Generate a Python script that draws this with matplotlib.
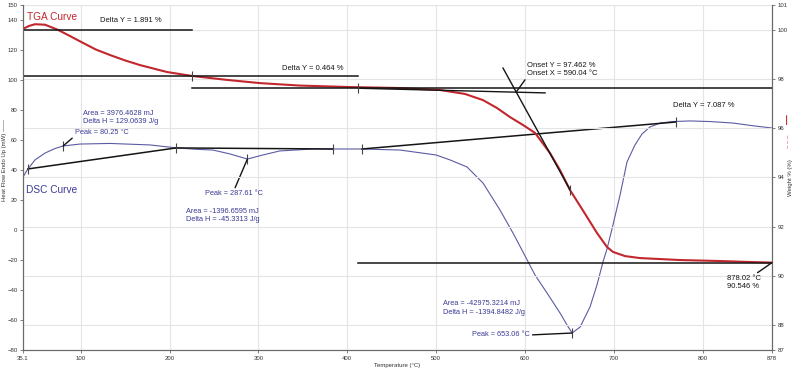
import numpy as np
import matplotlib
matplotlib.use('Agg')
import matplotlib.pyplot as plt

plt.rcParams['font.family'] = ['Liberation Sans', 'DejaVu Sans']

#==============================================================================
# Data
#==============================================================================
# DSC curve: temperature (C), heat flow (mW) -> left axis
dsc_t = [35.1, 38.5, 40.7, 48.6, 59.9, 71.1, 80.25, 99.3, 133, 178, 208.4, 230, 249,
         268, 287.6, 305, 324, 361, 384, 416.6, 459.4, 500, 515.7, 534.8, 552.8,
         571.9, 586.5, 597.8, 611.3, 624.8, 639.4, 647.3, 653.06, 662, 673.2, 681,
         687.8, 692.3, 699, 707, 714.8, 723.8, 731.7, 740.7, 752, 766.6, 785.7,
         808, 834, 859, 878]
dsc_mw = [35.3, 38.7, 40.7, 46.7, 51.3, 54.3, 56.0, 57.3, 57.7, 56.7, 54.7, 53.8, 53.3,
          50.7, 47.3, 50.0, 52.7, 54.0, 54.0, 54.0, 53.3, 50.0, 46.7, 42.0, 31.3,
          13.3, -2.0, -14.7, -30.0, -42.0, -55.3, -63.3, -68.7, -64.7, -51.3, -36.7,
          -21.3, -12.7, 3.3, 23.3, 45.3, 56.7, 64.0, 68.7, 71.3, 72.3, 72.7,
          72.3, 71.3, 69.3, 68.0]

# TGA curve: temperature (C), weight (%) -> right axis
tga_t = [35.1, 41.9, 48.6, 59.9, 74.5, 88, 102.7, 117.3, 133, 150, 166.9, 197.2, 225.3,
         264.7, 301.8, 346.8, 403, 459.4, 504.4, 532.5, 552.8, 568.5, 583.2, 597.8,
         611.3, 628.2, 639.4, 650.7, 669.8, 681, 692.3, 699, 712.6, 729.4, 774.4,
         819.5, 853.3, 878]
tga_w = [100.03, 100.15, 100.22, 100.20, 99.99, 99.74, 99.46, 99.19, 98.97, 98.75, 98.56,
         98.28, 98.12, 97.96, 97.83, 97.73, 97.67, 97.63, 97.55, 97.39, 97.14, 96.82,
         96.45, 96.13, 95.81, 94.99, 94.30, 93.49, 92.40, 91.75, 91.18, 90.98, 90.81,
         90.73, 90.65, 90.61, 90.57, 90.546]

# TGA analysis lines (weight %)
step_a = [35.1, 225.3, 100.0]      # x0, x1, level
step_b = [35.1, 412.1, 98.109]
step_c = [225.3, 878.0, 97.645]
end_line = [412.1, 878.0, 90.546]
onset_base_t = [414.4, 622.6]
onset_base_w = [97.620, 97.433]
onset_tan_t = [575.3, 650.7]
onset_tan_w = [98.44, 93.50]
onset_x, onset_y = 590.04, 97.462
end_x, end_y = 878.02, 90.546
tga_marks_t = [225.3, 412.1, 650.7]
tga_marks_w = [98.109, 97.645, 93.50]

# DSC baselines
base1_t, base1_mw = [40.7, 207.3], [40.7, 54.7]
base2_t, base2_mw = [207.3, 384.0], [54.7, 54.0]
base3_t, base3_mw = [416.6, 770.0], [54.0, 72.0]
dsc_marks_t = [40.7, 80.25, 207.3, 287.61, 384.0, 416.6, 653.06, 770.0]
dsc_marks_mw = [40.7, 56.0, 54.7, 47.3, 54.0, 54.0, -68.7, 72.0]
peaks = [(80.25, 56.0), (287.61, 47.3), (653.06, -68.7)]

x_ticks = [35.1, 100, 200, 300, 400, 500, 600, 700, 800, 878]
left_ticks = [-80, -60, -40, -20, 0, 20, 40, 60, 80, 100, 120, 140, 150]
right_ticks = [87, 88, 90, 92, 94, 96, 98, 100, 101]

#==============================================================================
# Plot
#==============================================================================
RED = '#c1272d'
BLUE = '#5b5ba3'
BTXT = '#3a3a96'
K = '#151515'
GRID = '#e4e4e4'

fig = plt.figure(figsize=(8, 3.7), dpi=100)
ax = fig.add_axes([0.02875, 0.0541, 0.93625, 0.9324])
ax2 = ax.twinx()

ax.set_xlim(35.1, 878)
ax.set_ylim(-80, 150)
ax2.set_ylim(87, 101)
ax.set_xticks(x_ticks)
ax.set_xticklabels(['35.1'] + [str(int(v)) for v in x_ticks[1:]])
ax.set_yticks(left_ticks)
ax2.set_yticks(right_ticks)

ax.grid(axis='x', color=GRID, lw=0.8)
ax2.grid(axis='y', color=GRID, lw=0.8)
ax.set_axisbelow(True)
ax2.set_axisbelow(True)

for a in (ax, ax2):
    a.spines['top'].set_visible(False)
    for s in ('left', 'right', 'bottom'):
        a.spines[s].set_color('#6a6a6a')
        a.spines[s].set_linewidth(0.8)
    a.tick_params(labelsize=4.3, length=2.5, width=0.6, pad=1.5,
                  colors='#6a6a6a', labelcolor='#333333')

ax.set_xlabel('Temperature (°C)', fontsize=4.3, color='#333333', labelpad=1.5)
ax.set_ylabel('Heat Flow Endo Up (mW) ——', fontsize=4.3, color='#333333')
ax.yaxis.set_label_coords(-0.021, 0.55)
ax2.set_ylabel('Weight % (%)', fontsize=4.3, color='#333333')
ax2.yaxis.set_label_coords(1.022, 0.50)
ax2.text(1.022, 0.605, '– – –', transform=ax2.transAxes, rotation=90, color=RED,
         fontsize=4.3, ha='center', va='center')
ax2.text(1.022, 0.668, '—', transform=ax2.transAxes, rotation=90, color=RED,
         fontsize=7, ha='center', va='center', fontweight='bold')

# DSC
ax.plot(dsc_t, dsc_mw, color=BLUE, lw=0.8)
for bt, bm in ((base1_t, base1_mw), (base2_t, base2_mw), (base3_t, base3_mw)):
    ax.plot(bt, bm, color=K, lw=1.1)
ax.plot(dsc_marks_t, dsc_marks_mw, ls='none', marker='|', ms=7, mew=0.8, color='#444444')

ax.text(38.5, 26.7, 'DSC Curve', color=BTXT, fontsize=7.3, va='center')
ax.text(102.6, 75, 'Area = 3976.4628 mJ\nDelta H = 129.0639 J/g', color=BTXT,
        fontsize=5.3, va='center', linespacing=1.25)
ax.text(218.5, 9.7, 'Area = -1396.6595 mJ\nDelta H = -45.3313 J/g', color=BTXT,
        fontsize=5.3, va='center', linespacing=1.25)
ax.text(507.8, -52, 'Area = -42975.3214 mJ\nDelta H = -1394.8482 J/g', color=BTXT,
        fontsize=5.3, va='center', linespacing=1.25)
arw = dict(arrowstyle='-', color=K, lw=1.0, shrinkA=0, shrinkB=0)
ax.annotate('Peak = 80.25 °C', xy=peaks[0], xytext=(93.6, 64.7), color=BTXT,
            fontsize=5.3, va='center', arrowprops=dict(arw, relpos=(0, 0.1)))
ax.annotate('Peak = 287.61 °C', xy=peaks[1], xytext=(239.9, 24), color=BTXT,
            fontsize=5.3, va='center', arrowprops=dict(arw, relpos=(0.5, 1)))
ax.annotate('Peak = 653.06 °C', xy=peaks[2], xytext=(540.4, -70), color=BTXT,
            fontsize=5.3, va='center', arrowprops=dict(arw, relpos=(1, 0.5)))

# TGA
ax2.plot(tga_t, tga_w, color=RED, lw=1.5)
for ln in (step_a, step_b, step_c, end_line):
    ax2.plot(ln[:2], [ln[2], ln[2]], color=K, lw=1.1)
ax2.plot(onset_base_t, onset_base_w, color=K, lw=1.0)
ax2.plot(onset_tan_t, onset_tan_w, color=K, lw=1.0)
ax2.plot(tga_marks_t, tga_marks_w, ls='none', marker='|', ms=7, mew=0.8, color='#444444')

ax2.text(39.6, 100.51, 'TGA Curve', color=RED, fontsize=7.3, va='center')
ax2.text(121.8, 100.36, 'Delta Y = 1.891 %', color=K, fontsize=5.5, va='center')
ax2.text(326.6, 98.44, 'Delta Y = 0.464 %', color=K, fontsize=5.5, va='center')
ax2.text(766.6, 96.94, 'Delta Y = 7.087 %', color=K, fontsize=5.5, va='center')
ax2.annotate('Onset Y = 97.462 %\nOnset X = 590.04 °C', xy=(onset_x, onset_y),
             xytext=(602.3, 98.38), color=K, fontsize=5.5, va='center',
             linespacing=1.2, arrowprops=dict(arw, relpos=(0, 0)))
ax2.annotate('878.02 °C\n90.546 %', xy=(end_x, end_y), xytext=(827.4, 89.72),
             color=K, fontsize=5.5, va='center', linespacing=1.2,
             arrowprops=dict(arw, relpos=(0.78, 1)))

fig.savefig('out.png', dpi=100, facecolor='white')
